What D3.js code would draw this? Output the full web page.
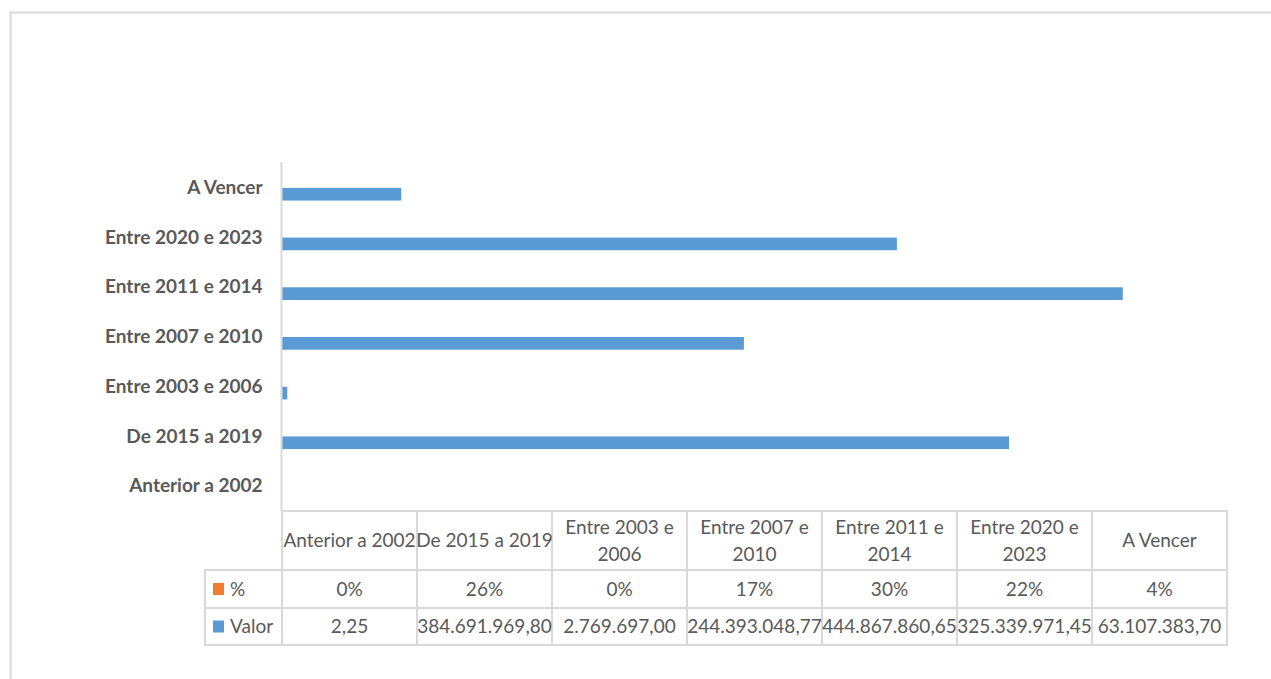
<!DOCTYPE html>
<html>
<head>
<meta charset="utf-8">
<script src="https://cdn.jsdelivr.net/npm/d3@7"></script>
<style>
  html, body { margin: 0; padding: 0; background: #fff; }
  svg { display: block; }
</style>
</head>
<body>
<svg id="chart" width="1271" height="679"></svg>
<script>
// ---- data ----
const categories = ["Anterior a 2002", "De 2015 a 2019", "Entre 2003 e 2006", "Entre 2007 e 2010", "Entre 2011 e 2014", "Entre 2020 e 2023", "A Vencer"];
const seriesNames = ["%", "Valor"];
const valor = [2.25, 384691969.80, 2769697.00, 244393048.77, 444867860.65, 325339971.45, 63107383.70];
const pct = [0.00, 0.26, 0.00, 0.17, 0.30, 0.22, 0.04];
const valorLabels = ["2,25", "384.691.969,80", "2.769.697,00", "244.393.048,77", "444.867.860,65", "325.339.971,45", "63.107.383,70"];
const pctLabels = ["0%", "26%", "0%", "17%", "30%", "22%", "4%"];
const xMax = 500000000;

const colors = { "%": "#ed7d31", "Valor": "#5b9bd5" };
const gridColor = "#d9d9d9";
const textColor = "#595959";
const font = "Lato, 'Open Sans', sans-serif";
const tableFont = "19px";
const labelFont = "19px";

const svg = d3.select("#chart");

// outer frame
svg.append("rect")
  .attr("x", 10.5).attr("y", 12.5)
  .attr("width", 1300).attr("height", 720)
  .attr("fill", "none").attr("stroke", gridColor).attr("stroke-width", 2);

const plot = { left: 282, right: 1227, top: 163, bottom: 511 };

const x = d3.scaleLinear().domain([0, xMax]).range([plot.left, plot.right]);
const y = d3.scaleBand()
  .domain(categories.slice().reverse())
  .range([plot.top, plot.bottom])
  .paddingInner(0.489).paddingOuter(0.2445);
const ySub = d3.scaleBand().domain(seriesNames).range([0, y.bandwidth()]);

const seriesData = { "%": pct, "Valor": valor };

// bars
seriesNames.forEach(s => {
  svg.append("g").selectAll("rect")
    .data(categories.map((c, i) => ({ c, v: seriesData[s][i] })))
    .join("rect")
    .attr("x", x(0))
    .attr("y", d => y(d.c) + ySub(s))
    .attr("width", d => Math.max(0, x(d.v) - x(0)))
    .attr("height", ySub.bandwidth())
    .attr("fill", colors[s]);
});

// y axis
const yAxis = d3.axisLeft(y).tickSize(0).tickPadding(19);
const gy = svg.append("g").attr("transform", `translate(${plot.left - 0.5},0)`).call(yAxis);
gy.select(".domain").attr("stroke", gridColor).attr("stroke-width", 2)
  .attr("d", `M0,${plot.top - 1}V${plot.bottom}`);
gy.selectAll("text")
  .attr("fill", textColor)
  .style("font-family", font)
  .style("font-size", labelFont)
  .style("font-weight", "bold");

// ---- data table ----
const col = d3.scaleBand().domain(categories).range([plot.left, plot.right]);
const rows = { headTop: 511, head: 570, r1: 608, r2: 645 };
const legendLeft = 205;
const table = svg.append("g");
const line = (x1, y1, x2, y2) => table.append("line")
  .attr("x1", x1).attr("y1", y1).attr("x2", x2).attr("y2", y2)
  .attr("stroke", gridColor).attr("stroke-width", 2);

// horizontal lines
line(plot.left, rows.headTop, plot.right + 1, rows.headTop);
line(legendLeft, rows.head, plot.right + 1, rows.head);
line(legendLeft, rows.r1, plot.right + 1, rows.r1);
line(legendLeft, rows.r2, plot.right + 1, rows.r2);
// vertical lines
categories.forEach(c => line(col(c), rows.headTop, col(c), rows.r2));
line(plot.right, rows.headTop - 1, plot.right, rows.r2 + 1);
line(legendLeft, rows.head - 1, legendLeft, rows.r2 + 1);

// header text with wrapping
const headG = table.append("g");
categories.forEach(c => {
  const cx = col(c) + col.bandwidth() / 2;
  const t = headG.append("text")
    .attr("text-anchor", "middle")
    .attr("fill", textColor)
    .style("font-family", font)
    .style("font-size", tableFont);
  // greedy wrap
  const words = c.split(" ");
  const lines = [];
  let cur = [];
  const probe = headG.append("text").style("font-family", font).style("font-size", tableFont);
  words.forEach(w => {
    const test = cur.concat([w]).join(" ");
    probe.text(test);
    if (probe.node().getComputedTextLength() > col.bandwidth() + 4 && cur.length) {
      lines.push(cur.join(" "));
      cur = [w];
    } else cur.push(w);
  });
  lines.push(cur.join(" "));
  probe.remove();
  const midY = (rows.headTop + rows.head) / 2;
  const lh = 27;
  lines.forEach((ln, i) => {
    t.append("tspan")
      .attr("x", cx)
      .attr("y", midY + (i - (lines.length - 1) / 2) * lh)
      .attr("dy", "0.35em")
      .text(ln);
  });
});

// data rows
const rowDefs = [
  { name: "%", labels: pctLabels, top: rows.head, bottom: rows.r1 },
  { name: "Valor", labels: valorLabels, top: rows.r1, bottom: rows.r2 }
];
rowDefs.forEach(r => {
  const my = (r.top + r.bottom) / 2;
  table.append("rect")
    .attr("x", legendLeft + 8).attr("y", my - 6)
    .attr("width", 11).attr("height", 12)
    .attr("fill", colors[r.name]);
  table.append("text")
    .attr("x", legendLeft + 25).attr("y", my).attr("dy", "0.35em")
    .attr("fill", textColor)
    .style("font-family", font).style("font-size", tableFont)
    .text(r.name);
  table.append("g").selectAll("text")
    .data(categories.map((c, i) => ({ c, l: r.labels[i] })))
    .join("text")
    .attr("x", d => col(d.c) + col.bandwidth() / 2)
    .attr("y", my).attr("dy", "0.35em")
    .attr("text-anchor", "middle")
    .attr("fill", textColor)
    .style("font-family", font).style("font-size", tableFont)
    .text(d => d.l);
});
</script>
</body>
</html>
